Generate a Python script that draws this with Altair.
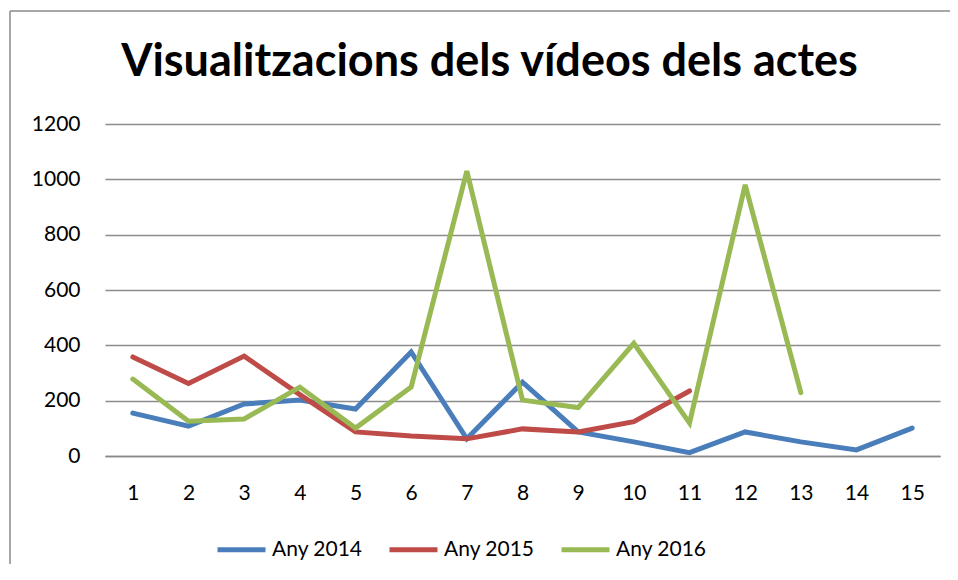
import altair as alt
import pandas as pd

categories = [str(i) for i in range(1, 16)]
any2014 = [155, 108, 188, 202, 170, 376, 62, 267, 87, 51, 12, 87, 51, 22, 101]
any2015 = [358, 262, 361, 222, 87, 72, 62, 98, 87, 124, 235, None, None, None, None]
any2016 = [278, 126, 134, 249, 101, 249, 1030, 202, 175, 407, 119, 980, 229, None, None]
series_names = ["Any 2014", "Any 2015", "Any 2016"]
colors = ["#4A7EBB", "#BE4B48", "#98B954"]

rows = []
for name, vals in zip(series_names, [any2014, any2015, any2016]):
    for c, v in zip(categories, vals):
        if v is not None:
            rows.append({"x": c, "value": v, "serie": name})
df = pd.DataFrame(rows)

font = "Lato"

lines = alt.Chart(df).mark_line(strokeWidth=5, strokeCap="round", strokeJoin="miter").encode(
    x=alt.X("x:N", sort=categories, scale=alt.Scale(type="point", padding=0.5),
            axis=alt.Axis(title=None, labelAngle=0, labelFontSize=21, labelColor="#000",
                          labelFont=font, domainColor="#888", domainWidth=1.5, ticks=False,
                          labelPadding=26, grid=False)),
    y=alt.Y("value:Q", scale=alt.Scale(domain=[0, 1200]),
            axis=alt.Axis(title=None, values=[0, 200, 400, 600, 800, 1000, 1200], format="d",
                          labelFontSize=21, labelColor="#000", labelFont=font, domain=False,
                          ticks=False, labelPadding=25, gridColor="#8c8c8c", gridWidth=1.5)),
    color=alt.Color("serie:N", scale=alt.Scale(domain=series_names, range=colors),
                    legend=alt.Legend(title=None, orient="none", legendX=110, legendY=399,
                                      direction="horizontal",
                                      symbolType="stroke", symbolStrokeWidth=5, symbolSize=2304,
                                      labelFontSize=21, labelFont=font, labelColor="#000",
                                      labelOffset=4, columnPadding=16)),
)

frame_df = pd.DataFrame({"a": [0]})
left_edge = alt.Chart(frame_df).mark_rule(stroke="#8a8a8a", strokeWidth=1.5).encode(
    x=alt.value(-95), y=alt.value(-113), y2=alt.value(600))
top_edge = alt.Chart(frame_df).mark_rule(stroke="#8a8a8a", strokeWidth=1.5).encode(
    x=alt.value(-95), x2=alt.value(2000), y=alt.value(-113))

chart = alt.layer(left_edge, top_edge, lines).properties(
    width=835, height=332,
    title=alt.TitleParams("Visualitzacions dels vídeos dels actes", fontSize=45, font=font,
                          fontWeight="bold", color="#000", offset=0, dy=75,
                          frame="group", dx=-33),
    autosize=alt.AutoSizeParams(type="none"),
    padding={"left": 97, "top": 116, "right": 10, "bottom": 108},
).configure_view(stroke=None)

chart.save("out.html", embed_options={"renderer": "svg", "actions": False})
